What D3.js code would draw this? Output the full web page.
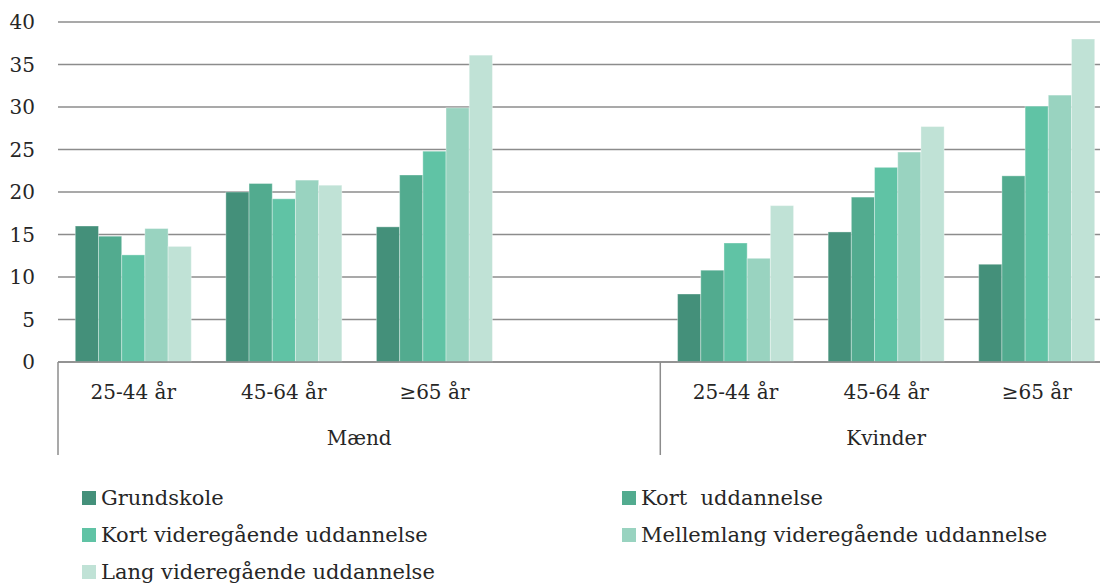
<!DOCTYPE html>
<html>
<head>
<meta charset="utf-8">
<script src="https://cdn.jsdelivr.net/npm/d3@7"></script>
<style>
  html, body { margin: 0; padding: 0; background: #fff; }
  svg { display: block; }
  text { font-family: "DejaVu Serif", "Liberation Serif", serif; fill: #262626; }
</style>
</head>
<body>
<svg id="chart" width="1100" height="585"></svg>
<script>
// Share (%) by education level, sex and age group
const genders = ["Mænd", "Kvinder"];
const ageGroups = ["25-44 år", "45-64 år", "≥65 år"];
const series = [
  "Grundskole",
  "Kort  uddannelse",
  "Kort videregående uddannelse",
  "Mellemlang videregående uddannelse",
  "Lang videregående uddannelse"
];
const colors = ["#44907a", "#52ab8f", "#60c3a5", "#99d3c0", "#c0e2d6"];

// values[series][group], groups ordered Mænd 25-44, 45-64, ≥65, Kvinder 25-44, 45-64, ≥65
const grundskole   = [16.0, 20.0, 15.9,  8.0, 15.3, 11.5];
const kort         = [14.8, 21.0, 22.0, 10.8, 19.4, 21.9];
const kortVid      = [12.6, 19.2, 24.8, 14.0, 22.9, 30.1];
const mellemlang   = [15.7, 21.4, 29.9, 12.2, 24.7, 31.4];
const lang         = [13.6, 20.8, 36.1, 18.4, 27.7, 38.0];
const seriesValues = [grundskole, kort, kortVid, mellemlang, lang];

const yTicks = [0, 5, 10, 15, 20, 25, 30, 35, 40];

// Category slots: Mænd has an empty fourth slot before Kvinder
const slots = [
  { gender: "Mænd", age: ageGroups[0], idx: 0 },
  { gender: "Mænd", age: ageGroups[1], idx: 1 },
  { gender: "Mænd", age: ageGroups[2], idx: 2 },
  { gender: "Mænd", age: "", idx: -1 },
  { gender: "Kvinder", age: ageGroups[0], idx: 3 },
  { gender: "Kvinder", age: ageGroups[1], idx: 4 },
  { gender: "Kvinder", age: ageGroups[2], idx: 5 }
];
slots.forEach((s, i) => s.key = "s" + i);

const svg = d3.select("#chart");
const plotLeft = 58, plotRight = 1112, plotTop = 22, plotBottom = 362;

const x0 = d3.scaleBand()
  .domain(slots.map(s => s.key))
  .range([plotLeft, plotRight])
  .paddingInner(0).paddingOuter(0);

const x1 = d3.scaleBand()
  .domain(series)
  .range([0, x0.bandwidth()])
  .paddingInner(0)
  .paddingOuter(0.745);

const y = d3.scaleLinear().domain([0, 40]).range([plotBottom, plotTop]);

// Gridlines
svg.append("g")
  .selectAll("line")
  .data(yTicks)
  .join("line")
  .attr("x1", plotLeft).attr("x2", 1100)
  .attr("y1", d => y(d)).attr("y2", d => y(d))
  .attr("stroke", "#8c8c8c")
  .attr("stroke-width", 1.5);

// Y tick labels
svg.append("g")
  .selectAll("text")
  .data(yTicks)
  .join("text")
  .attr("x", 35)
  .attr("y", d => y(d))
  .attr("dy", "0.35em")
  .attr("text-anchor", "end")
  .attr("font-size", 20)
  .text(d => d);

// Bars
const groups = svg.append("g")
  .selectAll("g")
  .data(slots.filter(s => s.idx >= 0))
  .join("g")
  .attr("transform", d => `translate(${x0(d.key)},0)`);

groups.selectAll("rect")
  .data(d => series.map((name, si) => ({ name, si, v: seriesValues[si][d.idx] })))
  .join("rect")
  .attr("x", d => x1(d.name))
  .attr("width", x1.bandwidth())
  .attr("y", d => y(d.v))
  .attr("height", d => y(0) - y(d.v))
  .attr("fill", (d) => colors[d.si])
  .attr("stroke", "#ffffff")
  .attr("stroke-opacity", 0.35)
  .attr("stroke-width", 1);

// Baseline
svg.append("line")
  .attr("x1", plotLeft).attr("x2", 1100)
  .attr("y1", y(0)).attr("y2", y(0))
  .attr("stroke", "#8c8c8c").attr("stroke-width", 1.5);

// Category axis dividers
const dividerX = [plotLeft, x0(slots[4].key)];
svg.append("g")
  .selectAll("line")
  .data(dividerX)
  .join("line")
  .attr("x1", d => d).attr("x2", d => d)
  .attr("y1", y(0)).attr("y2", 455)
  .attr("stroke", "#8c8c8c").attr("stroke-width", 1.5);

// Age group labels
svg.append("g")
  .selectAll("text")
  .data(slots.filter(s => s.age))
  .join("text")
  .attr("x", d => x0(d.key) + x0.bandwidth() / 2)
  .attr("y", 392)
  .attr("dy", "0.35em")
  .attr("text-anchor", "middle")
  .attr("font-size", 20)
  .text(d => d.age);

// Gender labels centred under their slots
svg.append("g")
  .selectAll("text")
  .data(genders)
  .join("text")
  .attr("x", g => {
    const ks = slots.filter(s => s.gender === g);
    return (x0(ks[0].key) + x0(ks[ks.length - 1].key) + x0.bandwidth()) / 2;
  })
  .attr("y", 438)
  .attr("dy", "0.35em")
  .attr("text-anchor", "middle")
  .attr("font-size", 20)
  .text(g => g);

// Legend (two columns, three rows)
const legendPos = [
  { x: 82, y: 498 }, { x: 622, y: 498 },
  { x: 82, y: 535 }, { x: 622, y: 535 },
  { x: 82, y: 572 }
];
const legend = svg.append("g")
  .selectAll("g")
  .data(series)
  .join("g")
  .attr("transform", (d, i) => `translate(${legendPos[i].x},${legendPos[i].y})`);

legend.append("rect")
  .attr("x", 0).attr("y", -7)
  .attr("width", 14).attr("height", 14)
  .attr("fill", (d, i) => colors[i]);

legend.append("text")
  .attr("x", 19)
  .attr("y", 0)
  .attr("dy", "0.35em")
  .attr("font-size", 21)
  .style("white-space", "pre")
  .attr("xml:space", "preserve")
  .text(d => d);
</script>
</body>
</html>
